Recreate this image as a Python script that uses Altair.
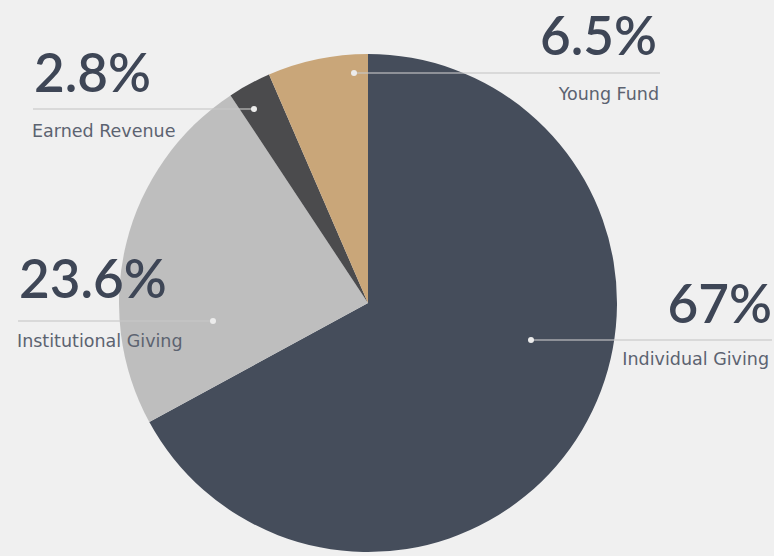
import altair as alt
import pandas as pd

# ---- data ----
categories = ["Individual Giving", "Institutional Giving", "Earned Revenue", "Young Fund"]
shares = [67, 23.6, 2.8, 6.5]
pct_labels = ["67%", "23.6%", "2.8%", "6.5%"]
colors = ["#454d5b", "#bebebe", "#4b4b4d", "#c9a679"]

# ---- layout (pixels) ----
W, H = 774, 556
CX, CY, R = 368, 303, 249
BG = "#f0f0f0"
TEXT_DARK = "#3e4656"
TEXT_LIGHT = "#5c6370"

# per-category annotation layout: dot position, far end of leader line,
# big-number anchor and small-label anchor, side ("L" = text left aligned)
layout = {
    "Individual Giving":    dict(dot_x=531, line_y=340, end_x=772, num_x=772, num_y=323, lab_x=769, lab_y=365, side="R"),
    "Institutional Giving": dict(dot_x=213, line_y=321, end_x=18,  num_x=19,  num_y=298, lab_x=17,  lab_y=347, side="L"),
    "Earned Revenue":       dict(dot_x=254, line_y=109, end_x=33,  num_x=34,  num_y=92,  lab_x=32,  lab_y=137, side="L"),
    "Young Fund":           dict(dot_x=354, line_y=73,  end_x=660, num_x=657, num_y=55,  lab_x=659, lab_y=100, side="R"),
}

pie_df = pd.DataFrame({
    "category": categories,
    "share": shares,
    "idx": list(range(len(categories))),
})

ann_rows = []
for cat, pct in zip(categories, pct_labels):
    row = dict(category=cat, pct=pct)
    row.update(layout[cat])
    ann_rows.append(row)
ann_df = pd.DataFrame(ann_rows)

pie = alt.Chart(pie_df).mark_arc(outerRadius=R, stroke=None).encode(
    theta=alt.Theta("share:Q", stack=True),
    color=alt.Color("category:N", scale=alt.Scale(domain=categories, range=colors), legend=None),
    order=alt.Order("idx:Q"),
    x=alt.value(CX),
    y=alt.value(CY),
)

base = alt.Chart(ann_df)

lines = base.mark_rule(color="#c8c8c8", strokeWidth=1.5, opacity=0.75).encode(
    x=alt.X("dot_x:Q", scale=None, axis=None),
    x2="end_x:Q",
    y=alt.Y("line_y:Q", scale=None, axis=None),
)

dots = base.mark_point(filled=True, color="#ececec", size=36, opacity=1).encode(
    x=alt.X("dot_x:Q", scale=None, axis=None),
    y=alt.Y("line_y:Q", scale=None, axis=None),
)

def texts(side, align):
    sub = base.transform_filter(alt.datum.side == side)
    num = sub.mark_text(
        align=align, baseline="alphabetic", font="Lato", fontSize=53,
        fontWeight=600, color=TEXT_DARK,
    ).encode(
        x=alt.X("num_x:Q", scale=None, axis=None),
        y=alt.Y("num_y:Q", scale=None, axis=None),
        text="pct:N",
    )
    lab = sub.mark_text(
        align=align, baseline="alphabetic", font="DejaVu Sans", fontSize=17.5,
        color=TEXT_LIGHT,
    ).encode(
        x=alt.X("lab_x:Q", scale=None, axis=None),
        y=alt.Y("lab_y:Q", scale=None, axis=None),
        text="category:N",
    )
    return num + lab

chart = alt.layer(
    pie, lines, dots, texts("L", "left"), texts("R", "right")
).properties(
    width=W, height=H, background=BG, padding=0,
    autosize=alt.AutoSizeParams(type="none"),
).configure_view(stroke=None)

chart.save("out.html", embed_options={"renderer": "svg", "actions": False})
